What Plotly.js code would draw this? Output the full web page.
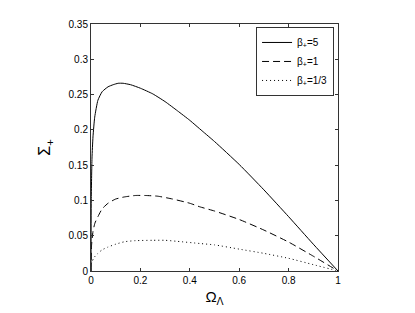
<!DOCTYPE html>
<html>
<head>
<meta charset="utf-8">
<script src="https://cdn.plot.ly/plotly-3.0.1.min.js"></script>
<style>html,body{margin:0;padding:0;background:#fff;}#chart{width:415px;height:313px;}</style>
</head>
<body>
<div id="chart"></div>
<script>
// beta_+ = 5 (solid)
const x5 = [0, 0.001, 0.004, 0.008, 0.015, 0.028, 0.045, 0.069, 0.09, 0.11, 0.13, 0.16, 0.2, 0.25, 0.3, 0.35, 0.4, 0.45, 0.5, 0.6, 0.7, 0.8, 0.9, 1];
const y5 = [0, 0.10, 0.16, 0.19, 0.218, 0.242, 0.254, 0.261, 0.264, 0.266, 0.266, 0.264, 0.259, 0.251, 0.24, 0.227, 0.2135, 0.1985, 0.1835, 0.151, 0.115, 0.077, 0.038, 0];
// beta_+ = 1 (dashed)
const x1 = [0, 0.002, 0.008, 0.016, 0.028, 0.045, 0.069, 0.1, 0.136, 0.18, 0.22, 0.27, 0.33, 0.4, 0.44, 0.5, 0.6, 0.7, 0.8, 0.9, 1];
const y1 = [0, 0.035, 0.056, 0.068, 0.077, 0.088, 0.096, 0.102, 0.105, 0.107, 0.107, 0.106, 0.102, 0.096, 0.091, 0.085, 0.073, 0.058, 0.041, 0.021, 0];
// beta_+ = 1/3 (dotted)
const x3 = [0, 0.004, 0.012, 0.028, 0.045, 0.069, 0.1, 0.136, 0.18, 0.25, 0.3, 0.35, 0.44, 0.5, 0.6, 0.7, 0.8, 0.9, 1];
const y3 = [0.01, 0.013, 0.019, 0.025, 0.03, 0.034, 0.038, 0.0415, 0.043, 0.0435, 0.0435, 0.042, 0.039, 0.037, 0.031, 0.025, 0.018, 0.009, 0];
const names = ['β<sub>+</sub>=5', 'β<sub>+</sub>=1', 'β<sub>+</sub>=1/3'];
const xTicks = [0, 0.2, 0.4, 0.6, 0.8, 1];
const xTickText = ['0', '0.2', '0.4', '0.6', '0.8', '1'];
const yTicks = [0, 0.05, 0.1, 0.15, 0.2, 0.25, 0.3, 0.35];
const yTickText = ['0', '0.05', '0.1', '0.15', '0.2', '0.25', '0.3', '0.35'];

const traces = [
  {x: x5, y: y5, name: names[0], mode: 'lines', line: {color: '#000', width: 1, dash: 'solid', shape: 'spline', smoothing: 0.5}},
  {x: x1, y: y1, name: names[1], mode: 'lines', line: {color: '#000', width: 1, dash: '7px,4px', shape: 'spline', smoothing: 0.5}},
  {x: x3, y: y3, name: names[2], mode: 'lines', line: {color: '#000', width: 1, dash: '1px,3px', shape: 'spline', smoothing: 0.5}}
];

const axisCommon = {
  showgrid: false, zeroline: false, showline: true, linecolor: '#333', linewidth: 1,
  mirror: 'ticks', ticks: 'inside', ticklen: 3, tickcolor: '#333',
  tickfont: {family: 'Liberation Sans, Arial, sans-serif', size: 10, color: '#000'}
};

const layout = {
  width: 415, height: 313,
  margin: {l: 91, r: 77, t: 24, b: 42, pad: 0},
  paper_bgcolor: '#fff', plot_bgcolor: '#fff',
  showlegend: true,
  legend: {
    x: 0.984, y: 0.988, xanchor: 'right', yanchor: 'top',
    bgcolor: '#fff', bordercolor: '#333', borderwidth: 1,
    font: {family: 'Liberation Sans, Arial, sans-serif', size: 10, color: '#000'},
    tracegroupgap: 0, itemwidth: 30
  },
  xaxis: Object.assign({}, axisCommon, {
    range: [0, 1], tickvals: xTicks, ticktext: xTickText,
    title: {text: 'Ω<sub>Λ</sub>', font: {family: 'Liberation Sans, Arial, sans-serif', size: 15, color: '#000'}, standoff: 6}
  }),
  yaxis: Object.assign({}, axisCommon, {
    range: [0, 0.35], tickvals: yTicks, ticktext: yTickText,
    title: {text: 'Σ<sub>+</sub>', font: {family: 'Liberation Sans, Arial, sans-serif', size: 16, color: '#000'}, standoff: 13}
  })
};

Plotly.newPlot('chart', traces, layout, {displayModeBar: false, staticPlot: true});
</script>
</body>
</html>
